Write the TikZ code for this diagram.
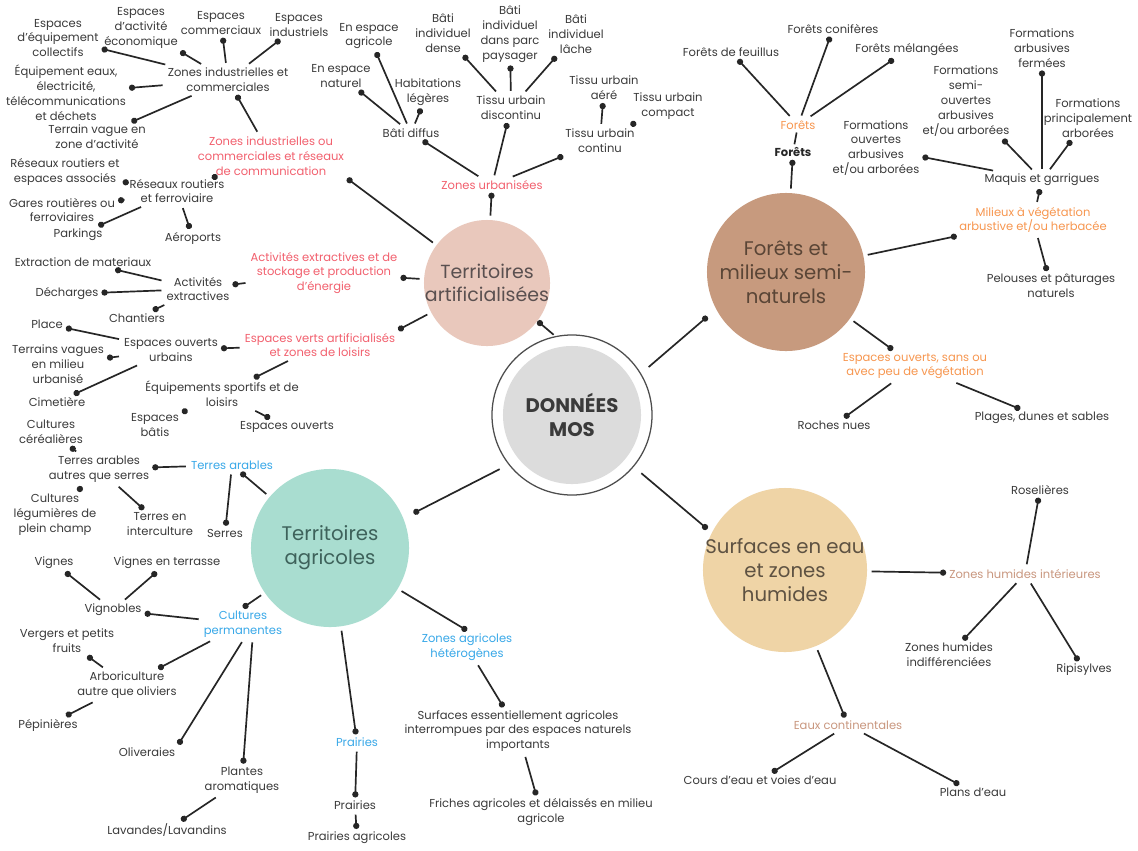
\documentclass[tikz,border=0pt]{standalone}
\usepackage{fontspec}
\setmainfont{Poppins}
\usetikzlibrary{arrows.meta}

\definecolor{txtgray}{HTML}{3A3A3A}
\definecolor{linec}{HTML}{262626}
\definecolor{redlab}{HTML}{F2606E}
\definecolor{bluelab}{HTML}{38A8E8}
\definecolor{orangelab}{HTML}{F7964F}
\definecolor{brownlab}{HTML}{C9977F}
\definecolor{artc}{HTML}{E9C8BC}
\definecolor{forc}{HTML}{C79A7E}
\definecolor{agric}{HTML}{A9DDD0}
\definecolor{watc}{HTML}{EFD4A6}
\definecolor{mosc}{HTML}{DCDCDC}
\definecolor{ringc}{HTML}{4D4D4D}
\definecolor{arttxt}{HTML}{5A5050}
\definecolor{fortxt}{HTML}{5A4536}
\definecolor{agritxt}{HTML}{3E625B}
\definecolor{wattxt}{HTML}{5E5242}

\begin{document}
\begin{tikzpicture}[x=0.025cm, y=-0.025cm,
  leaf/.style={align=center, font=\fontsize{8.2}{10.6}\selectfont, text=txtgray, inner sep=2pt},
  redl/.style={leaf, text=redlab},
  bluel/.style={leaf, text=bluelab},
  orangel/.style={leaf, text=orangelab},
  brownl/.style={leaf, text=brownlab},
  bigc/.style={circle, inner sep=0pt},
  bigtxt/.style={align=center, font=\fontsize{14}{17}\selectfont},
  link/.style={draw=linec, line width=1.2pt, -{Circle[length=4.4pt]}, shorten <=1.5pt}]

\fill[white] (0,0) rectangle (1138,850);
\useasboundingbox (0,0) rectangle (1138,850);

% centre
\node[bigc, draw=ringc, line width=0.9pt, fill=white, minimum size=4cm] (mos) at (572,415) {};
\node[bigc, fill=mosc, minimum size=3.45cm] (mosin) at (mos) {};
\node[align=center, font=\fontsize{14}{16.5}\selectfont\bfseries, text=txtgray] (most) at (mos) {DONNÉES\\MOS};

% main circles
\node[bigc, fill=artc, minimum size=3.15cm] (art) at (487,283) {};
\node[bigtxt, font=\fontsize{13.5}{16.5}\selectfont, text=arttxt] (artt) at (art) {Territoires\\artificialisées};
\node[bigc, fill=forc, minimum size=3.95cm] (foret) at (786,272) {};
\node[bigtxt, text=fortxt] (forett) at (foret) {Forêts et\\milieux semi-\\naturels};
\node[bigc, fill=agric, minimum size=3.95cm] (agri) at (330,548) {};
\node[bigtxt, text=agritxt] (agrit) at (agri) {Territoires\\agricoles};
\node[bigc, fill=watc, minimum size=4.1cm] (eau) at (785,570) {};
\node[bigtxt, text=wattxt] (eaut) at (eau) {Surfaces en eau\\et zones\\humides};

\draw[link] (mos.102) -- (art.-37);
\draw[link, shorten <=7pt, shorten >=8pt] (mos.31) -- (foret.208);
\draw[link, shorten <=7pt, shorten >=8pt] (mos.218) -- (agri.22);
\draw[link, shorten <=7pt, shorten >=4pt] (mos.-40) -- (eau.153);

% territoires artificialises
\node[redl] (zurb) at (492,185) {Zones urbanisées};
\node[redl] (zind) at (271,156) {Zones industrielles ou\\commerciales et réseaux\\de communication};
\node[redl] (aext) at (324,273) {Activités extractives et de\\stockage et production\\d'énergie};
\node[redl] (evert) at (320,345) {Espaces verts artificialisés\\et zones de loisirs};

\draw[link, shorten <=3pt] (art) -- (zurb);
\draw[link, shorten <=3pt] (art) -- (zind.south east);
\draw[link, shorten <=3pt] (art) -- (aext);
\draw[link, shorten <=3pt] (art) -- (evert.north east);

\node[leaf] (bdif) at (411,133) {Bâti diffus};
\node[leaf] (tud) at (511,108) {Tissu urbain\\discontinu};
\node[leaf] (tuc) at (600,141) {Tissu urbain\\continu};
\node[leaf] (eagr) at (369,36) {En espace\\agricole};
\node[leaf] (enat) at (341,76) {En espace\\naturel};
\node[leaf] (hleg) at (428,92) {Habitations\\légères};
\node[leaf] (bidense) at (443,33) {Bâti\\individuel\\dense};
\node[leaf] (biparc) at (510,34) {Bâti\\individuel\\dans parc\\paysager};
\node[leaf] (bilache) at (576,34) {Bâti\\individuel\\lâche};
\node[leaf] (tuaere) at (604,88) {Tissu urbain\\aéré};
\node[leaf] (tucomp) at (668,106) {Tissu urbain\\compact};

\draw[link] (zurb) -- (bdif);
\draw[link] (zurb) -- (tud);
\draw[link] (zurb) -- (tuc);
\draw[link] (bdif) -- (eagr);
\draw[link] (bdif) -- (enat);
\draw[link] (bdif) -- (hleg);
\draw[link] (tud) -- (bidense);
\draw[link] (tud) -- (biparc);
\draw[link] (tud) -- (bilache);
\draw[link] (tuc) -- (tuaere);
\draw[link] (tuc) -- (tucomp);

\node[leaf] (zic) at (228,80) {Zones industrielles et\\commerciales};
\node[leaf] (rrf) at (177,191) {Réseaux routiers\\et ferroviaire};
\node[leaf] (eecoll) at (58,38) {Espaces\\d'équipement\\collectifs};
\node[leaf] (eeco) at (141,28) {Espaces\\d'activité\\économique};
\node[leaf] (ecomm) at (221,23) {Espaces\\commerciaux};
\node[leaf] (eindus) at (299,25) {Espaces\\industriels};
\node[leaf] (equip) at (66,93) {Équipement eaux,\\électricité,\\télécommunications\\et déchets};
\node[leaf] (tvague) at (97,137) {Terrain vague en\\zone d'activité};
\node[leaf] (rresp) at (65,172) {Réseaux routiers et\\espaces associés};
\node[leaf] (gares) at (62,210) {Gares routières ou\\ferroviaires};
\node[leaf] (parking) at (78,235) {Parkings};
\node[leaf] (aero) at (193,238) {Aéroports};

\draw[link] (zind) -- (zic);
\draw[link] (zind) -- (rrf);
\draw[link] (zic) -- (eecoll);
\draw[link] (zic) -- (eeco);
\draw[link] (zic) -- (ecomm);
\draw[link] (zic) -- (eindus);
\draw[link] (zic) -- (equip);
\draw[link] (zic) -- (tvague);
\draw[link] (rrf) -- (rresp);
\draw[link] (rrf) -- (gares);
\draw[link] (rrf) -- (parking);
\draw[link] (rrf) -- (aero);

\node[leaf] (actext) at (198,289) {Activités\\extractives};
\node[leaf] (extrac) at (83,262) {Extraction de materiaux};
\node[leaf] (dech) at (67,294) {Décharges};
\node[leaf] (chant) at (137,318) {Chantiers};

\draw[link] (aext) -- (actext);
\draw[link] (actext) -- (extrac);
\draw[link] (actext) -- (dech);
\draw[link] (actext) -- (chant);

\node[leaf] (eouv) at (171,350) {Espaces ouverts\\urbains};
\node[leaf] (eqsport) at (222,394) {Équipements sportifs et de\\loisirs};
\node[leaf] (place) at (47,324) {Place};
\node[leaf] (tvurb) at (58,364) {Terrains vagues\\en milieu\\urbanisé};
\node[leaf] (cimet) at (57,402) {Cimetière};
\node[leaf] (ebatis) at (155,425) {Espaces\\bâtis};
\node[leaf] (eouverts) at (287,427) {Espaces ouverts};

\draw[link] (evert) -- (eouv);
\draw[link] (evert) -- (eqsport);
\draw[link] (eouv) -- (place);
\draw[link] (eouv) -- (tvurb);
\draw[link] (eouv) -- (cimet);
\draw[link] (eqsport) -- (ebatis);
\draw[link] (eqsport) -- (eouverts);

% territoires agricoles
\node[bluel] (tarab) at (232,465) {Terres arables};
\node[bluel] (cperm) at (243,624) {Cultures\\permanentes};
\node[bluel] (prair) at (357,742) {Prairies};
\node[bluel] (zagh) at (467,647) {Zones agricoles\\hétérogènes};

\draw[link, shorten <=3pt] (agri) -- (tarab);
\draw[link, shorten <=3pt] (agri) -- (cperm.north);
\draw[link, shorten <=3pt] (agri) -- (prair);
\draw[link, shorten <=3pt] (agri) -- (zagh.north);

\node[leaf] (taautres) at (99,469) {Terres arables\\autres que serres};
\node[leaf] (serres) at (225,533) {Serres};
\node[leaf] (ccere) at (51,432) {Cultures\\céréalières};
\node[leaf] (cleg) at (55,515) {Cultures\\légumières de\\plein champ};
\node[leaf] (tinter) at (160,524) {Terres en\\interculture};

\draw[link] (tarab) -- (taautres);
\draw[link] (tarab) -- (serres);
\draw[link] (taautres) -- (ccere);
\draw[link] (taautres) -- (cleg);
\draw[link] (taautres) -- (tinter);

\node[leaf] (vignob) at (113,610) {Vignobles};
\node[leaf] (arbor) at (127,685) {Arboriculture\\autre que oliviers};
\node[leaf] (olive) at (147,752) {Oliveraies};
\node[leaf] (paromat) at (242,780) {Plantes\\aromatiques};
\node[leaf] (vignes) at (54,563) {Vignes};
\node[leaf] (vterr) at (167,563) {Vignes en terrasse};
\node[leaf] (verger) at (67,641) {Vergers et petits\\fruits};
\node[leaf] (pepin) at (48,725) {Pépinières};
\node[leaf] (lavand) at (167,830) {Lavandes/Lavandins};

\draw[link] (cperm) -- (vignob);
\draw[link] (cperm) -- (arbor);
\draw[link] (cperm.south) -- (olive.north east);
\draw[link] (cperm.-60) -- (paromat);
\draw[link] (vignob) -- (vignes);
\draw[link] (vignob) -- (vterr);
\draw[link] (arbor) -- (verger);
\draw[link] (arbor) -- (pepin);
\draw[link] (paromat) -- (lavand);

\node[leaf] (prair2) at (355,805) {Prairies};
\node[leaf] (pragri) at (357,838) {Prairies agricoles};
\node[leaf] (sessent) at (518,731) {Surfaces essentiellement agricoles\\interrompues par des espaces naturels\\importants};
\node[leaf] (friches) at (541,812) {Friches agricoles et délaissés en milieu\\agricole};

\draw[link] (prair) -- (prair2);
\draw[link] (prair2) -- (pragri);
\draw[link] (zagh) -- (sessent);
\draw[link] (sessent) -- (friches);

% forets et milieux semi-naturels
\node[leaf, font=\fontsize{8.2}{10.6}\selectfont\bfseries, text=linec] (fortitle) at (793,152) {Forêts};
\node[orangel] (forlab) at (798,125) {Forêts};
\node[leaf] (ffeuil) at (731,52) {Forêts de feuillus};
\node[leaf] (fconif) at (833,29) {Forêts conifères};
\node[leaf] (fmelan) at (907,50) {Forêts mélangées};

\draw[link, shorten <=3pt] (foret) -- (fortitle);
\draw[draw=linec, line width=1.2pt] (fortitle) -- (forlab);
\draw[link] (forlab) -- (ffeuil);
\draw[link] (forlab) -- (fconif);
\draw[link] (forlab) -- (fmelan);

\node[orangel] (mveg) at (1033,220) {Milieux à végétation\\arbustive et/ou herbacée};
\node[orangel] (eosv) at (915,366) {Espaces ouverts, sans ou\\avec peu de végétation};

\draw[link, shorten <=3pt] (foret) -- (mveg);
\draw[link, shorten <=3pt] (foret) -- (eosv);

\node[leaf] (maquis) at (1042,180) {Maquis et garrigues};
\node[leaf] (pelous) at (1051,286) {Pelouses et pâturages\\naturels};
\node[leaf] (fouv) at (876,148) {Formations\\ouvertes\\arbusives\\et/ou arborées};
\node[leaf] (fsemi) at (966,101) {Formations\\semi-\\ouvertes\\arbusives\\et/ou arborées};
\node[leaf] (fferm) at (1042,48) {Formations\\arbusives\\fermées};
\node[leaf] (fprinc) at (1088,118) {Formations\\principalement\\arborées};
\node[leaf] (roches) at (834,425) {Roches nues};
\node[leaf] (plages) at (1042,418) {Plages, dunes et sables};

\draw[link] (mveg) -- (maquis);
\draw[link] (mveg) -- (pelous);
\draw[link] (maquis) -- (fouv);
\draw[link] (maquis) -- (fsemi);
\draw[link] (maquis) -- (fferm);
\draw[link] (maquis) -- (fprinc);
\draw[link] (eosv) -- (roches);
\draw[link] (eosv) -- (plages);

% surfaces en eau
\node[brownl] (zhint) at (1025,574) {Zones humides intérieures};
\node[brownl] (eaucont) at (848,725) {Eaux continentales};

\draw[link, shorten <=3pt] (eau) -- (zhint);
\draw[link, shorten <=3pt] (eau) -- (eaucont);

\node[leaf] (rosel) at (1040,490) {Roselières};
\node[leaf] (zhind) at (949,655) {Zones humides\\indifférenciées};
\node[leaf] (ripis) at (1084,670) {Ripisylves};
\node[leaf] (cours) at (760,780) {Cours d'eau et voies d'eau};
\node[leaf] (plans) at (973,792) {Plans d'eau};

\draw[link] (zhint) -- (rosel);
\draw[link] (zhint) -- (zhind);
\draw[link] (zhint) -- (ripis);
\draw[link] (eaucont) -- (cours);
\draw[link] (eaucont) -- (plans);
\end{tikzpicture}
\end{document}
